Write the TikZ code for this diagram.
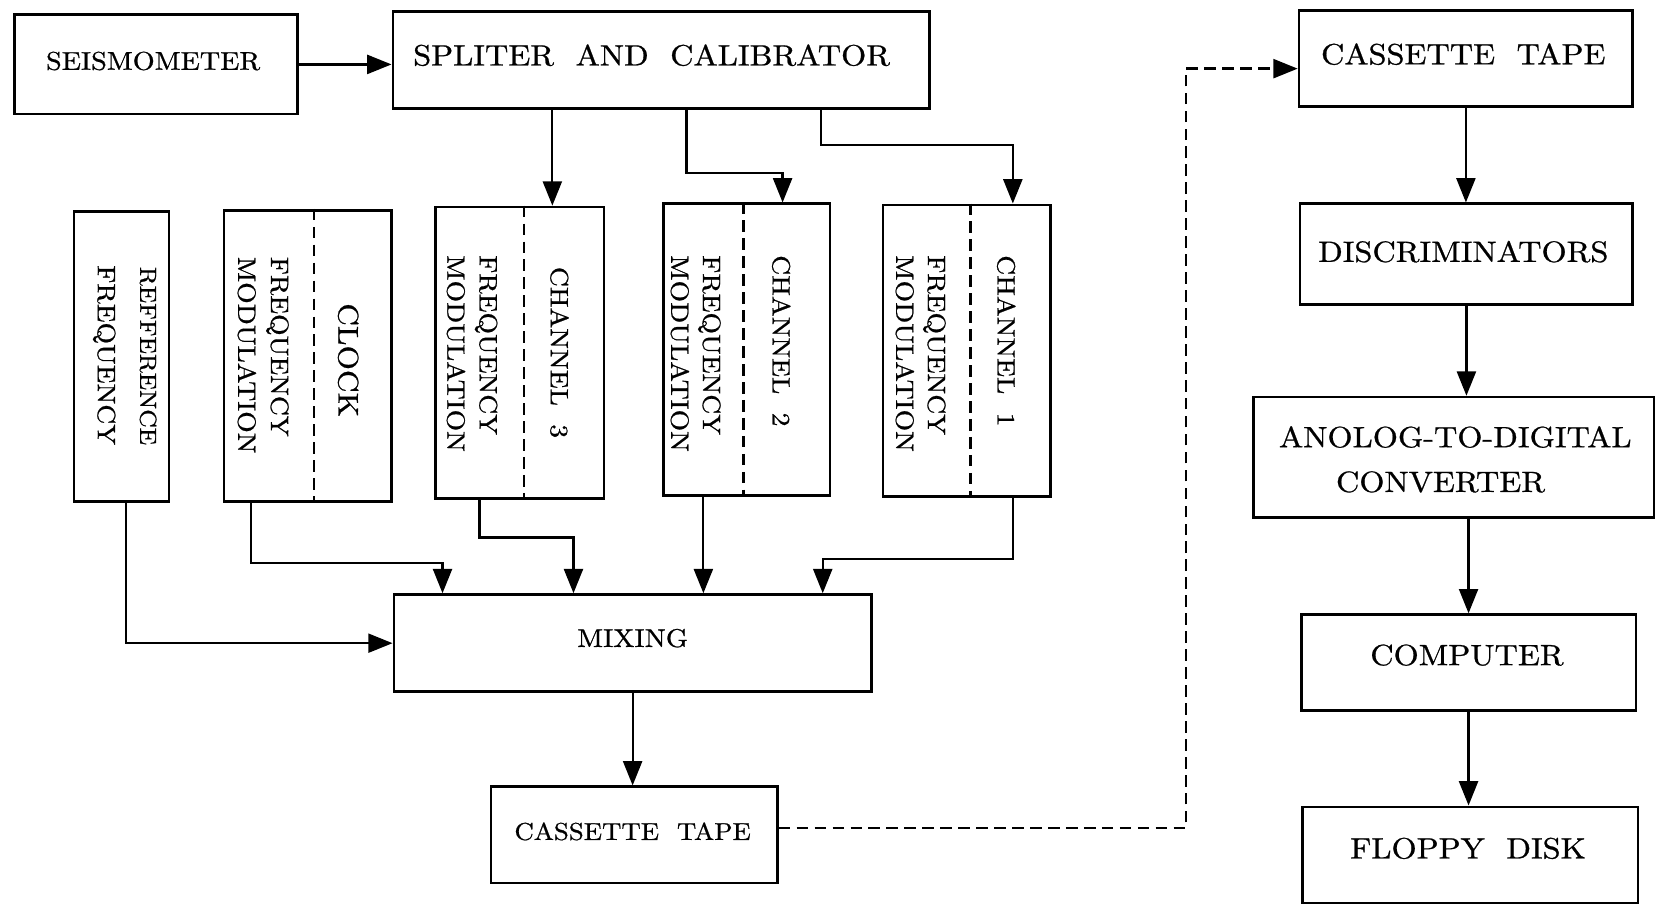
\documentclass[tikz,border=0pt]{standalone}
\usepackage{fontspec}
\setmainfont{lmroman10-regular.otf}[FakeStretch=1.1,FakeBold=0.8]
\usetikzlibrary{arrows.meta,fit}
\begin{document}
\begin{tikzpicture}[x=1pt,y=-1pt,
  box/.style={draw, line width=2.6pt, inner sep=0pt},
  arr/.style={line width=2.1pt, -{Triangle[length=23pt,width=18pt]}},
  dline/.style={line width=2.2pt, dash pattern=on 11pt off 6pt},
  txt/.style={inner sep=0pt, text depth=0pt, font=\fontsize{24.3}{29}\selectfont},
  bigtxt/.style={txt, font=\fontsize{27.8}{33}\selectfont},
  smalltxt/.style={txt, font=\fontsize{23.1}{28}\selectfont},
  vtxt/.style={txt, rotate=-90, anchor=west, font=\fontsize{23.8}{28}\selectfont},
]
\useasboundingbox (0,0) rectangle (1568,856);

% ---------- boxes ----------
\node[box, fit={(14,14) (282,108)}] (seis) {};
\node[box, fit={(372,11) (880,103)}] (split) {};
\node[box, fit={(70,200) (160,475)}] (ref) {};
\node[box, fit={(212,199) (371,475)}] (clock) {};
\node[box, fit={(412,196) (572,472)}] (ch3) {};
\node[box, fit={(628,193) (786,469)}] (ch2) {};
\node[box, fit={(836,194) (995,470)}] (ch1) {};
\node[box, fit={(373,563) (825,655)}] (mix) {};
\node[box, fit={(465,745) (736,836)}] (ctb) {};
\node[box, fit={(1230,10) (1546,101)}] (ctt) {};
\node[box, fit={(1231,193) (1546,288)}] (disc) {};
\node[box, fit={(1187,376) (1566,490)}] (adc) {};
\node[box, fit={(1232,582) (1549,673)}] (comp) {};
\node[box, fit={(1233,764) (1551,855)}] (flop) {};

% ---------- horizontal texts ----------
\node[txt] (seis-t) at (145,57.5) {SEISMOMETER};
\node[bigtxt] (split-t) at (617,52) {SPLITER\ \ AND\ \ CALIBRATOR};
\node[txt] (mix-t) at (599,604) {MIXING};
\node[smalltxt] (ctb-t) at (599,787) {CASSETTE\ \ TAPE};
\node[bigtxt] (ctt-t) at (1385.5,51) {CASSETTE\ \ TAPE};
\node[bigtxt] (disc-t) at (1385.5,238) {DISCRIMINATORS};
\node[bigtxt] (adc-t1) at (1378,413.5) {ANOLOG-TO-DIGITAL};
\node[bigtxt] (adc-t2) at (1364,456) {CONVERTER};
\node[bigtxt] (comp-t) at (1389,620) {COMPUTER};
\node[bigtxt] (flop-t) at (1390,803) {FLOPPY\ \ DISK};

% ---------- vertical texts ----------
\node[vtxt, font=\fontsize{22}{26}\selectfont] (ref-t1) at (140.5,252.5) {REFFERENCE};
\node[vtxt] (ref-t2) at (101,251) {FREQUENCY};

\node[txt, rotate=-90, font=\fontsize{27}{32}\selectfont] (clock-t1) at (330,341) {CLOCK};
\node[vtxt] (clock-t2) at (265,243) {FREQUENCY};
\node[vtxt] (clock-t3) at (234,243) {MODULATION};

\node[vtxt] (ch3-t1) at (530,252.5) {CHANNEL\ \ 3};
\node[vtxt] (ch3-t2) at (462.6,241.5) {FREQUENCY};
\node[vtxt] (ch3-t3) at (432,241.5) {MODULATION};

\node[vtxt] (ch2-t1) at (740,241.5) {CHANNEL\ \ 2};
\node[vtxt] (ch2-t2) at (674,241.5) {FREQUENCY};
\node[vtxt] (ch2-t3) at (644,241.5) {MODULATION};

\node[vtxt] (ch1-t1) at (953,241.5) {CHANNEL\ \ 1};
\node[vtxt] (ch1-t2) at (887,241.5) {FREQUENCY};
\node[vtxt] (ch1-t3) at (857,241.5) {MODULATION};

% ---------- dashed dividers ----------
\coordinate (dk) at (297,0);
\coordinate (d3) at (496,0);
\coordinate (d2) at (704,0);
\coordinate (d1) at (919,0);
\draw[dline] (clock.north -| dk) -- (clock.south -| dk);
\draw[dline] (ch3.north -| d3) -- (ch3.south -| d3);
\draw[dline] (ch2.north -| d2) -- (ch2.south -| d2);
\draw[dline] (ch1.north -| d1) -- (ch1.south -| d1);

% ---------- connectors ----------
\draw[arr] (seis.east) -- (seis.east -| split.west);

\coordinate (s3) at (523,0);
\draw[arr] (split.south -| s3) -- (ch3.north -| s3);
\coordinate (b2a) at (650,164);
\coordinate (b2b) at (741,164);
\draw[arr] (split.south -| b2a) -- (b2a) -- (b2b) -- (ch2.north -| b2b);
\coordinate (b1a) at (777,137);
\coordinate (b1b) at (959,137);
\draw[arr] (split.south -| b1a) -- (b1a) -- (b1b) -- (ch1.north -| b1b);

\coordinate (r1) at (119,609);
\draw[arr] (ref.south -| r1) -- (r1) -- (mix.west |- r1);
\coordinate (k1) at (238,533);
\coordinate (k2) at (419,533);
\draw[arr] (clock.south -| k1) -- (k1) -- (k2) -- (mix.north -| k2);
\coordinate (c3a) at (454,509);
\coordinate (c3b) at (543,509);
\draw[arr] (ch3.south -| c3a) -- (c3a) -- (c3b) -- (mix.north -| c3b);
\coordinate (m2) at (666,0);
\draw[arr] (ch2.south -| m2) -- (mix.north -| m2);
\coordinate (c1a) at (959,529);
\coordinate (c1b) at (779,529);
\draw[arr] (ch1.south -| c1a) -- (c1a) -- (c1b) -- (mix.north -| c1b);

\draw[arr] (mix.south) -- (mix.south |- ctb.north);

\coordinate (q1) at (1123,784);
\coordinate (q2) at (1123,65);
\draw[dline, -{Triangle[length=23pt,width=18pt]}] (ctb.east |- q1) -- (q1) -- (q2) -- (ctt.west |- q2);

\draw[arr] (ctt.south) -- (ctt.south |- disc.north);
\draw[arr] (disc.south) -- (disc.south |- adc.north);
\draw[arr] (comp.north |- adc.south) -- (comp.north);
\draw[arr] (comp.south) -- (comp.south |- flop.north);
\end{tikzpicture}
\end{document}
